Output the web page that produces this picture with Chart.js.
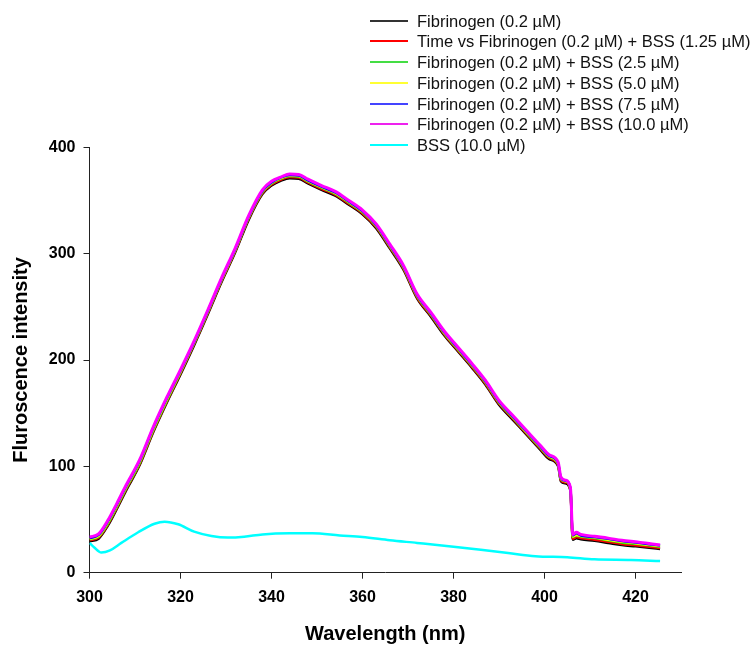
<!DOCTYPE html>
<html>
<head>
<meta charset="utf-8">
<script src="https://cdn.jsdelivr.net/npm/chart.js@4/dist/chart.umd.min.js"></script>
<style>
  html, body { margin: 0; padding: 0; background: #fff; }
  #wrap { position: relative; width: 755px; height: 646px; }
  #c { position: absolute; left: 0; top: 0; }
  #legend { position: absolute; left: 0; top: 0; font-family: "Liberation Sans", Arial, sans-serif; font-size: 16.5px; color: #111; }
  .row { position: absolute; left: 370px; height: 20px; white-space: nowrap; }
  .sw { position: absolute; left: 0; width: 38px; height: 2px; top: 9px; }
  .tx { position: absolute; left: 47px; top: 0; line-height: 20px; }
</style>
</head>
<body>
<div id="wrap">
  <canvas id="c" width="755" height="646"></canvas>
  <div id="legend"></div>
</div>
<script>
// ---- data ----
const wavelengths = [300, 302, 304, 306, 308, 311, 314, 317, 320, 323, 326, 329, 332, 335, 338, 340, 342, 344, 346, 348, 351, 354, 357, 360, 363, 366, 369, 372, 375, 378, 381, 384, 387, 390, 393, 396, 399, 401, 403, 403.6, 404.6, 405.7, 406.2, 407, 408, 411, 414, 417, 420, 423, 425.4];

const fib = [29.5, 32, 44, 60, 77, 101, 132, 160, 186.5, 214, 243, 273, 301, 332, 356, 364, 368.5, 371, 370.5, 366, 360, 354.5, 346, 337, 324, 305, 285, 258, 241, 223, 208, 193, 177, 158, 144, 130, 116, 107, 100, 86, 84, 77, 31, 32.5, 31.5, 30, 28, 26, 24.8, 23.5, 22.3];
const fibBss125 = [30.5, 33, 45, 61, 78, 102, 133, 161, 187.5, 215, 244, 274, 302, 333, 357, 365, 369.5, 372, 371.5, 367, 361, 355.5, 347, 338, 325, 306, 286, 259, 242, 224, 209, 194, 178, 159, 145, 131, 117, 108, 101, 87, 85, 78, 32, 33.5, 32.5, 31, 29, 27, 25.8, 24.5, 23.3];
const fibBss25 = [31.5, 34, 46, 62, 79, 103, 134, 162, 188.5, 216, 245, 275, 303, 334, 358, 366, 370.5, 373, 372.5, 368, 362, 356.5, 348, 339, 326, 307, 287, 260, 243, 225, 210, 195, 179, 160, 146, 132, 118, 109, 102, 88, 86, 79, 33.5, 35, 34, 32.5, 30.5, 28.5, 27.2, 25.8, 24.5];
const fibBss50 = [32, 34.5, 47, 63, 80, 104, 135, 163, 189, 216.5, 245.5, 275.5, 303.5, 334.5, 358.5, 366.5, 371, 373.5, 373, 368.5, 362.5, 357, 348.5, 339.5, 326.5, 307.5, 287.5, 260.5, 243.5, 225.5, 210.5, 195.5, 179.5, 160.5, 146.5, 132.5, 118.5, 109.5, 102.5, 88.5, 86, 79, 34, 35.5, 34.5, 33, 31, 29, 27.8, 26.2, 25];
const fibBss75 = [32.5, 35.5, 48, 64, 81, 105, 136, 164, 190, 217, 246, 276, 304, 335, 359, 367, 371.5, 374, 373.5, 369, 363, 357.5, 349, 340, 327, 308, 288, 261, 244, 226, 211, 196, 180, 161, 147, 133, 119, 110, 103, 89, 86.5, 79.5, 35, 37, 35, 33.5, 31.8, 29.8, 28.3, 26.8, 25.5];
const fibBss100 = [33.5, 36.5, 49, 65, 82, 106, 137, 165, 191, 218, 247, 277, 305, 336, 360, 368, 372, 375, 374.5, 370, 364, 358.5, 350, 341, 328, 309, 289, 262, 245, 227, 212, 197, 181, 162, 148, 134, 120, 111, 104, 90, 87, 80, 36, 38, 36, 34.2, 32.5, 30.5, 29, 27.5, 26];

const bssWavelengths = [300, 301, 302.6, 304.5, 307, 310.7, 314.3, 316.5, 319.5, 323, 326.8, 330.4, 334, 338, 344, 349, 355, 360, 366, 372, 380, 386, 392, 398, 405, 411, 419, 425.4];
const bss100 = [28, 24, 19, 21, 28, 38, 46, 48, 45.5, 38.6, 34.5, 33, 33.8, 36, 37, 37, 35, 33.5, 30.5, 28, 24.5, 21.5, 18.5, 15.5, 14.5, 12.6, 12, 11];

const seriesLabels = [
  "Fibrinogen (0.2 \u00b5M)",
  "Time vs Fibrinogen (0.2 \u00b5M) + BSS (1.25 \u00b5M)",
  "Fibrinogen (0.2 \u00b5M) + BSS (2.5 \u00b5M)",
  "Fibrinogen (0.2 \u00b5M) + BSS (5.0 \u00b5M)",
  "Fibrinogen (0.2 \u00b5M) + BSS (7.5 \u00b5M)",
  "Fibrinogen (0.2 \u00b5M) + BSS (10.0 \u00b5M)",
  "BSS (10.0 \u00b5M)"
];
const xTickValues = [300, 320, 340, 360, 380, 400, 420];
const yTickValues = [0, 100, 200, 300, 400];
const xTitle = "Wavelength (nm)";
const yTitle = "Fluroscence intensity";

// ---- styling ----
const seriesColors = ["#000000", "#ff0000", "#00ff00", "#ffff00", "#0000ff", "#ff00ff", "#00ffff"];
const legendColors = ["#333333", "#ff0000", "#44dd44", "#ffff33", "#4444ff", "#ee22ee", "#00ffff"];

function pts(xs, ys) { return xs.map((x, i) => ({ x: x, y: ys[i] })); }
const allSeries = [
  pts(wavelengths, fib), pts(wavelengths, fibBss125), pts(wavelengths, fibBss25),
  pts(wavelengths, fibBss50), pts(wavelengths, fibBss75), pts(wavelengths, fibBss100),
  pts(bssWavelengths, bss100)
];

const datasets = allSeries.map((d, i) => ({
  label: seriesLabels[i],
  data: d,
  borderColor: seriesColors[i],
  backgroundColor: seriesColors[i],
  borderWidth: i === 5 ? 3 : 2.5,
  pointRadius: 0,
  fill: false,
  cubicInterpolationMode: 'monotone',
  order: allSeries.length - i
}));

const axisColor = '#222';
const tickFont = { family: "'Liberation Sans', Arial, sans-serif", size: 16, weight: 'bold' };
const titleFont = { family: "'Liberation Sans', Arial, sans-serif", size: 20, weight: 'bold' };

new Chart(document.getElementById('c'), {
  type: 'line',
  data: { datasets: datasets },
  options: {
    responsive: false,
    devicePixelRatio: 1,
    animation: false,
    layout: { padding: { top: 147.3, right: 74, left: 0, bottom: 0 } },
    plugins: { legend: { display: false }, tooltip: { enabled: false } },
    scales: {
      x: {
        type: 'linear', min: 300, max: 430,
        afterFit: s => { s.height = 73.3; },
        afterBuildTicks: s => { s.ticks = xTickValues.map(v => ({ value: v })); },
        grid: { display: true, drawOnChartArea: false, drawTicks: true, tickLength: 6, color: axisColor },
        border: { display: true, color: axisColor, width: 1 },
        ticks: { color: '#000', font: tickFont, padding: 9, maxRotation: 0 },
        title: { display: true, text: xTitle, color: '#000', font: titleFont, padding: { top: 0, bottom: 0 } }
      },
      y: {
        type: 'linear', min: 0, max: 400,
        afterFit: s => { s.width = 89.5; },
        afterBuildTicks: s => { s.ticks = yTickValues.map(v => ({ value: v })); },
        grid: { display: true, drawOnChartArea: false, drawTicks: true, tickLength: 6, color: axisColor },
        border: { display: true, color: axisColor, width: 1 },
        ticks: { color: '#000', font: tickFont, padding: 8 },
        title: { display: true, text: yTitle, color: '#000', font: titleFont, padding: { top: 9, bottom: 0 } }
      }
    }
  }
});

// ---- legend (HTML text) ----
const legend = document.getElementById('legend');
seriesLabels.forEach((lab, i) => {
  const row = document.createElement('div');
  row.className = 'row';
  row.style.top = Math.round(10.7 + i * 20.7) + 'px';
  const sw = document.createElement('div');
  sw.className = 'sw';
  sw.style.background = legendColors[i];
  const tx = document.createElement('div');
  tx.className = 'tx';
  tx.textContent = lab;
  row.appendChild(sw); row.appendChild(tx);
  legend.appendChild(row);
});
</script>
</body>
</html>
